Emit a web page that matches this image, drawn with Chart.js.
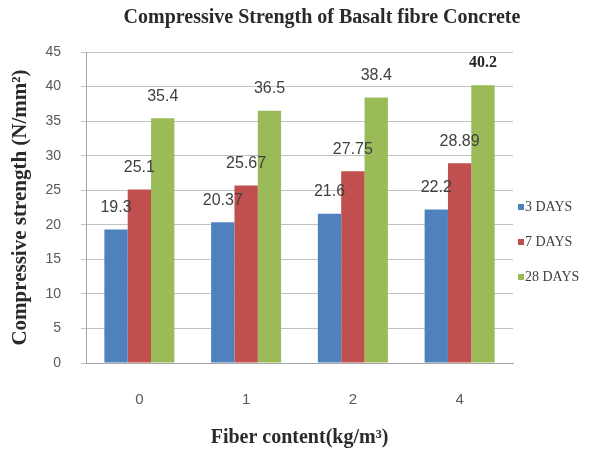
<!DOCTYPE html>
<html>
<head>
<meta charset="utf-8">
<script src="https://cdn.jsdelivr.net/npm/chart.js@4.4.1/dist/chart.umd.min.js"></script>
<style>
  html, body { margin: 0; padding: 0; background: #ffffff; }
  #wrap { width: 590px; height: 452px; }
</style>
</head>
<body>
<div id="wrap"><canvas id="chart" width="590" height="452"></canvas></div>
<script>
// Compressive strength (N/mm²) by basalt fibre content and curing age
const chartTitle = 'Compressive Strength of Basalt fibre Concrete';
const fiberContent = ['0', '1', '2', '4'];
const seriesNames = ['3 DAYS', '7 DAYS', '28 DAYS'];
const strength3Days = [19.3, 20.37, 21.6, 22.2];
const strength7Days = [25.1, 25.67, 27.75, 28.89];
const strength28Days = [35.4, 36.5, 38.4, 40.2];
const yAxisMin = 0;
const yAxisMax = 45;
const yAxisStep = 5;

const seriesColors = ['#4F81BD', '#C0504D', '#9BBB59'];
const SERIF = '"Liberation Serif", "DejaVu Serif", serif';
const SANS = '"Liberation Sans", Arial, sans-serif';

// Chart heading, drawn in the reserved top band
const headingPlugin = {
  id: 'heading',
  afterDraw(chart) {
    const ctx = chart.ctx;
    ctx.save();
    ctx.font = 'bold 20px ' + SERIF;
    ctx.fillStyle = '#2a2a2a';
    ctx.textAlign = 'center';
    ctx.textBaseline = 'middle';
    ctx.fillText(chartTitle, 322, 18);
    ctx.restore();
  }
};

// Value labels above each bar
const valueLabelPlugin = {
  id: 'valueLabels',
  afterDatasetsDraw(chart) {
    const ctx = chart.ctx;
    ctx.save();
    ctx.textAlign = 'center';
    ctx.textBaseline = 'middle';
    chart.data.datasets.forEach((ds, di) => {
      const meta = chart.getDatasetMeta(di);
      meta.data.forEach((bar, i) => {
        const lastOfSeries = (di === chart.data.datasets.length - 1 && i === ds.data.length - 1);
        ctx.font = lastOfSeries ? 'bold 16px ' + SERIF : '16px ' + SANS;
        ctx.fillStyle = lastOfSeries ? '#262626' : '#404040';
        ctx.fillText(String(ds.data[i]), bar.x, bar.y - 22);
      });
    });
    ctx.restore();
  }
};

// Series key on the right-hand side
const seriesKeyPlugin = {
  id: 'seriesKey',
  afterDraw(chart) {
    const ctx = chart.ctx;
    const area = chart.chartArea;
    ctx.save();
    ctx.font = '14px ' + SERIF;
    ctx.textAlign = 'left';
    ctx.textBaseline = 'middle';
    chart.data.datasets.forEach((ds, i) => {
      const y = 207 + i * 35;
      const x = area.right + 5;
      ctx.fillStyle = ds.backgroundColor;
      ctx.fillRect(x, y - 3, 6, 6);
      ctx.fillStyle = '#404040';
      ctx.fillText(ds.label, x + 7, y);
    });
    ctx.restore();
  }
};

new Chart(document.getElementById('chart'), {
  type: 'bar',
  data: {
    labels: fiberContent,
    datasets: [
      { label: seriesNames[0], data: strength3Days, backgroundColor: seriesColors[0] },
      { label: seriesNames[1], data: strength7Days, backgroundColor: seriesColors[1] },
      { label: seriesNames[2], data: strength28Days, backgroundColor: seriesColors[2] }
    ]
  },
  options: {
    responsive: false,
    animation: false,
    devicePixelRatio: 1,
    layout: { padding: { top: 52, right: 77, left: 0, bottom: 0 } },
    datasets: {
      bar: { categoryPercentage: 0.656, barPercentage: 1.0, borderWidth: 0 }
    },
    plugins: {
      legend: { display: false },
      title: { display: false },
      tooltip: { enabled: false }
    },
    scales: {
      x: {
        grid: { display: false, drawTicks: false },
        border: { display: true, color: '#a6a6a6', width: 1 },
        ticks: { padding: 28, color: '#595959', font: { family: SANS, size: 15 } },
        title: {
          display: true,
          text: 'Fiber content(kg/m³)',
          color: '#2a2a2a',
          font: { family: SERIF, size: 20, weight: 'bold' },
          padding: { top: 0, bottom: 2 }
        },
        afterFit(scale) { scale.height = 89; }
      },
      y: {
        min: yAxisMin,
        max: yAxisMax,
        ticks: { stepSize: yAxisStep, padding: 20, color: '#595959', font: { family: SANS, size: 14 } },
        grid: { color: '#c2c2c2', lineWidth: 1, drawTicks: true, tickLength: 5 },
        border: { display: true, color: '#a6a6a6', width: 1 },
        title: {
          display: true,
          text: 'Compressive strength (N/mm²)',
          color: '#2a2a2a',
          font: { family: SERIF, size: 21, weight: 'bold' },
          padding: { top: 8, bottom: 0 }
        },
        afterFit(scale) { scale.width = 86; }
      }
    }
  },
  plugins: [headingPlugin, valueLabelPlugin, seriesKeyPlugin]
});
</script>
</body>
</html>
